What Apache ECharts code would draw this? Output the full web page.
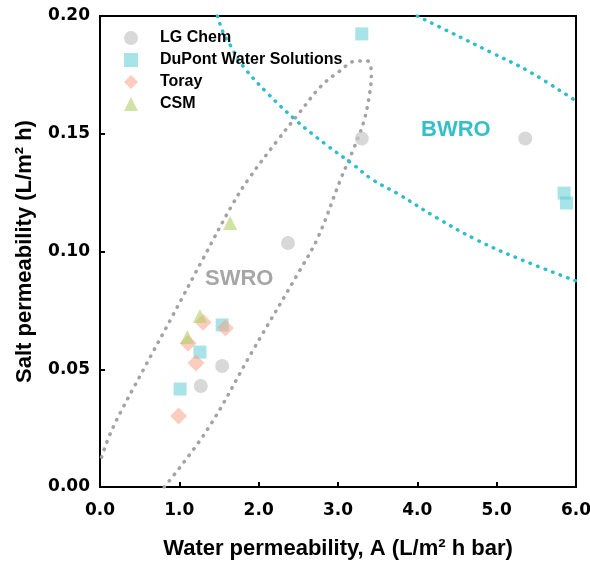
<!DOCTYPE html>
<html>
<head>
<meta charset="utf-8">
<script src="https://cdn.jsdelivr.net/npm/echarts@6/dist/echarts.min.js"></script>
<style>
  html, body { margin: 0; padding: 0; background: #fff; }
  #chart { width: 590px; height: 566px; }
</style>
</head>
<body>
<div id="chart"></div>
<script>
// membrane data: [water permeability A, salt permeability B]
const lgChem = [[3.30, 0.148], [2.37, 0.1036], [1.54, 0.0514], [1.27, 0.0429], [5.36, 0.148]]
const dupont = [[3.30, 0.1924], [1.54, 0.0688], [1.26, 0.0573], [1.01, 0.0416], [5.85, 0.1248], [5.88, 0.1206]]
const toray = [[1.30, 0.0700], [1.58, 0.0675], [1.11, 0.0610], [1.21, 0.0527], [0.99, 0.0301]]
const csm = [[1.64, 0.1121], [1.26, 0.0726], [1.10, 0.0637]]

// SWRO region outline
const swroOutline = [
    [0.02, 0.0127], [0.16, 0.025], [0.55, 0.050], [0.92, 0.073], [1.30, 0.097],
    [1.68, 0.1206], [1.89, 0.1316], [2.24, 0.1473], [2.52, 0.1592], [2.78, 0.1700],
    [2.99, 0.1758], [3.24, 0.1809], [3.37, 0.1809], [3.42, 0.1758], [3.40, 0.1673],
    [3.32, 0.1546], [3.19, 0.1431], [3.03, 0.1304], [2.75, 0.1062], [2.52, 0.0921],
    [1.93, 0.0582], [1.35, 0.0242], [0.81, 0.0]
]
// BWRO region boundaries
const bwroLower = [
    [1.48, 0.2], [1.55, 0.1932], [1.64, 0.1877], [1.80, 0.1788], [2.12, 0.1669],
    [2.48, 0.1554], [2.84, 0.1456], [3.18, 0.1372], [3.44, 0.1304], [3.74, 0.1248],
    [4.25, 0.1142], [4.75, 0.1049], [5.26, 0.0972], [6.0, 0.0875]
]
const bwroUpper = [[4.0, 0.2], [4.41, 0.1932], [4.92, 0.1847], [5.42, 0.1762], [6.0, 0.1639]]

const xTicks = { min: 0, max: 6, step: 1 }
const yTicks = { min: 0, max: 0.2, step: 0.05 }

const font = "'Liberation Sans', Arial, sans-serif"
const tickFont = "'DejaVu Sans', sans-serif"

const dotted = (color) => ({
    color: color,
    width: 3.5,
    type: [0.5, 7.5],
    cap: 'round'
})

const chart = echarts.init(document.getElementById('chart'))
const option = {
    animation: false,
    backgroundColor: '#fff',
    grid: {
        left: 100, right: 14, top: 16, bottom: 79,
        outerBoundsMode: 'none',
        containLabel: false,
        show: true, borderColor: '#000', borderWidth: 2
    },
    legend: {
        orient: 'vertical',
        left: 124, top: 30,
        padding: 0,
        itemGap: 6,
        itemWidth: 14, itemHeight: 14,
        data: ['LG Chem', 'DuPont Water Solutions', 'Toray', 'CSM'],
        textStyle: { fontFamily: font, fontWeight: 'bold', fontSize: 16, color: '#000', padding: [0, 0, 0, 17] }
    },
    xAxis: {
        type: 'value',
        min: xTicks.min, max: xTicks.max, interval: xTicks.step,
        name: 'Water permeability, A (L/m² h bar)',
        nameLocation: 'middle', nameGap: 51,
        nameTextStyle: { fontFamily: font, fontWeight: 'bold', fontSize: 22, color: '#000' },
        axisLine: { lineStyle: { color: '#000', width: 2 } },
        axisTick: { inside: true, length: 5, lineStyle: { width: 2, color: '#000' } },
        axisLabel: { fontFamily: tickFont, fontWeight: 'bold', fontSize: 17, color: '#000', margin: 15, formatter: v => v.toFixed(1) },
        splitLine: { show: false }
    },
    yAxis: {
        type: 'value',
        min: yTicks.min, max: yTicks.max, interval: yTicks.step,
        name: 'Salt permeability (L/m² h)',
        nameLocation: 'middle', nameGap: 64,
        nameTextStyle: { fontFamily: font, fontWeight: 'bold', fontSize: 22, color: '#000' },
        axisLine: { lineStyle: { color: '#000', width: 2 } },
        axisTick: { inside: true, length: 5, lineStyle: { width: 2, color: '#000' } },
        axisLabel: { fontFamily: tickFont, fontWeight: 'bold', fontSize: 17, color: '#000', margin: 10, formatter: v => v.toFixed(2) },
        splitLine: { show: false }
    },
    graphic: [
        { type: 'text', left: 205, top: 268, style: { text: 'SWRO', fill: '#a6a6a6', font: 'bold 22px ' + font } },
        { type: 'text', left: 421, top: 119, style: { text: 'BWRO', fill: '#36bfc9', font: 'bold 22px ' + font } }
    ],
    series: [
        { name: 'swro', type: 'line', data: swroOutline, smooth: 0.4, symbol: 'none', lineStyle: dotted('#a3a3a3'), z: 1, silent: true },
        { name: 'bwro1', type: 'line', data: bwroLower, smooth: 0.4, symbol: 'none', lineStyle: dotted('#2fbfca'), z: 1, silent: true },
        { name: 'bwro2', type: 'line', data: bwroUpper, smooth: 0.4, symbol: 'none', lineStyle: dotted('#2fbfca'), z: 1, silent: true },
        { name: 'LG Chem', type: 'scatter', data: lgChem, symbol: 'circle', symbolSize: 14, itemStyle: { color: '#c8c8c8', opacity: 0.7 }, z: 3 },
        { name: 'DuPont Water Solutions', type: 'scatter', data: dupont, symbol: 'rect', symbolSize: 13, itemStyle: { color: '#5fccd4', opacity: 0.55 }, z: 3 },
        { name: 'Toray', type: 'scatter', data: toray, symbol: 'diamond', symbolSize: 17, itemStyle: { color: '#f8a488', opacity: 0.55 }, z: 3 },
        { name: 'CSM', type: 'scatter', data: csm, symbol: 'triangle', symbolSize: 14, itemStyle: { color: '#b3d068', opacity: 0.6 }, z: 3 }
    ]
}
chart.setOption(option)
</script>
</body>
</html>
